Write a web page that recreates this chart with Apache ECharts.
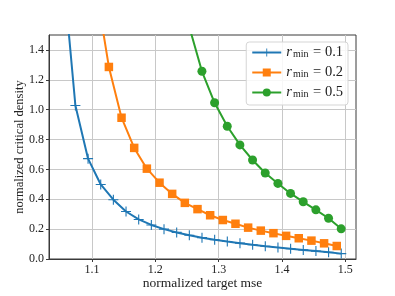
<!DOCTYPE html>
<html><head><meta charset="utf-8">
<script src="https://cdn.jsdelivr.net/npm/echarts@6/dist/echarts.min.js"></script>
<style>html,body{margin:0;padding:0;background:#fff}#c{width:395px;height:296px}</style>
</head><body><div id="c"></div>
<script>
// r_min = 0.1
const blueX = [1.0537,1.0737,1.0937,1.1137,1.1337,1.1537,1.1737,1.1937,1.2137,1.2337,1.2537,1.2737,1.2937,1.3137,1.3337,1.3537,1.3737,1.3937,1.4137,1.4337,1.4537,1.4737,1.4937];
const blueY = [1.96,1.028,0.672,0.499,0.397,0.318,0.265,0.228,0.200,0.178,0.159,0.143,0.129,0.117,0.106,0.095,0.085,0.077,0.069,0.061,0.053,0.045,0.036];
// r_min = 0.2
const orangeX = [1.1066,1.1266,1.1466,1.1666,1.1866,1.2066,1.2266,1.2466,1.2666,1.2866,1.3066,1.3266,1.3466,1.3666,1.3866,1.4066,1.4266,1.4466,1.4666,1.4866];
const orangeY = [1.81,1.286,0.946,0.744,0.605,0.511,0.436,0.376,0.334,0.293,0.261,0.236,0.210,0.190,0.173,0.155,0.139,0.123,0.105,0.087];
// r_min = 0.5
const greenX = [1.2536,1.2736,1.2936,1.3136,1.3336,1.3536,1.3736,1.3936,1.4136,1.4336,1.4536,1.4736,1.4936];
const greenY = [1.555,1.257,1.046,0.889,0.764,0.663,0.576,0.506,0.439,0.383,0.329,0.273,0.202];

const xTicks = [1.1,1.2,1.3,1.4,1.5];
const yTicks = [0,0.2,0.4,0.6,0.8,1.0,1.2,1.4];
const seriesNames = ['r_min = 0.1','r_min = 0.2','r_min = 0.5'];
const legendValues = ['0.1','0.2','0.5'];

const FONT = 'Liberation Serif';
const zip = (xs, ys) => xs.map((x, i) => [x, ys[i]]);
const plus = 'path://M-1,-0.11L1,-0.11L1,0.11L-1,0.11Z M-0.11,-1L0.11,-1L0.11,1L-0.11,1Z';

const chart = echarts.init(document.getElementById('c'), null, {renderer: 'canvas'});
const mkSeries = (name, data, color, symbol, size) => ({
  name, type: 'line', data, symbol, symbolSize: size, showAllSymbol: true,
  clip: true, animation: false,
  lineStyle: {color, width: 2},
  itemStyle: {color, borderWidth: 0}
});
chart.setOption({
  animation: false,
  grid: {left: 49, right: 39, top: 35, bottom: 37, containLabel: false, outerBoundsMode: 'none',
         show: true, borderColor: '#3a3a3a', borderWidth: 1, backgroundColor: 'transparent'},
  xAxis: {
    type: 'value', min: 1.032, max: 1.517,
    name: 'normalized target mse', nameLocation: 'middle', nameGap: 17, nameMoveOverlap: false,
    nameTextStyle: {fontFamily: FONT, fontSize: 13.5, color: '#222'},
    axisLine: {show: true, lineStyle: {color: '#3a3a3a'}},
    axisTick: {show: true, inside: false, length: 3, customValues: xTicks, lineStyle: {color: '#3a3a3a'}},
    axisLabel: {customValues: xTicks, fontFamily: FONT, fontSize: 12, color: '#222', margin: 5, formatter: v => v.toFixed(1)},
    splitLine: {show: true, lineStyle: {color: '#c8c8c8', width: 1}}
  },
  yAxis: {
    type: 'value', min: 0, max: 1.5,
    name: 'normalized critical density', nameLocation: 'middle', nameGap: 23, nameMoveOverlap: false,
    nameTextStyle: {fontFamily: FONT, fontSize: 12.5, color: '#222'},
    axisLine: {show: true, lineStyle: {color: '#3a3a3a'}},
    axisTick: {show: true, inside: false, length: 3, customValues: yTicks, lineStyle: {color: '#3a3a3a'}},
    axisLabel: {customValues: yTicks, fontFamily: FONT, fontSize: 12, color: '#222', margin: 5, formatter: v => v.toFixed(1)},
    splitLine: {show: true, lineStyle: {color: '#c8c8c8', width: 1}}
  },
  legend: {
    right: 47, top: 42, orient: 'vertical', itemGap: 5, itemWidth: 29, itemHeight: 10,
    backgroundColor: 'rgba(255,255,255,0.85)', borderColor: '#d5d5d5', borderWidth: 1, borderRadius: 3,
    padding: [3, 5, 5, 5],
    formatter: name => {
      const i = seriesNames.indexOf(name);
      return '{i|r}{s|min}{n| = ' + legendValues[i] + '}';
    },
    textStyle: {
      fontFamily: FONT, color: '#222',
      rich: {
        i: {fontFamily: FONT, fontStyle: 'italic', fontSize: 14.5, lineHeight: 14, verticalAlign: 'middle'},
        s: {fontFamily: FONT, fontSize: 10, lineHeight: 8, verticalAlign: 'bottom', padding: [0, 1, 0, 1]},
        n: {fontFamily: FONT, fontSize: 14.5, lineHeight: 14, verticalAlign: 'middle', whiteSpace: 'pre'}
      }
    },
    data: seriesNames
  },
  series: [
    mkSeries(seriesNames[0], zip(blueX, blueY), '#1f77b4', plus, 10),
    mkSeries(seriesNames[1], zip(orangeX, orangeY), '#ff7f0e', 'rect', 8.5),
    mkSeries(seriesNames[2], zip(greenX, greenY), '#2ca02c', 'circle', 9)
  ]
});
</script></body></html>
